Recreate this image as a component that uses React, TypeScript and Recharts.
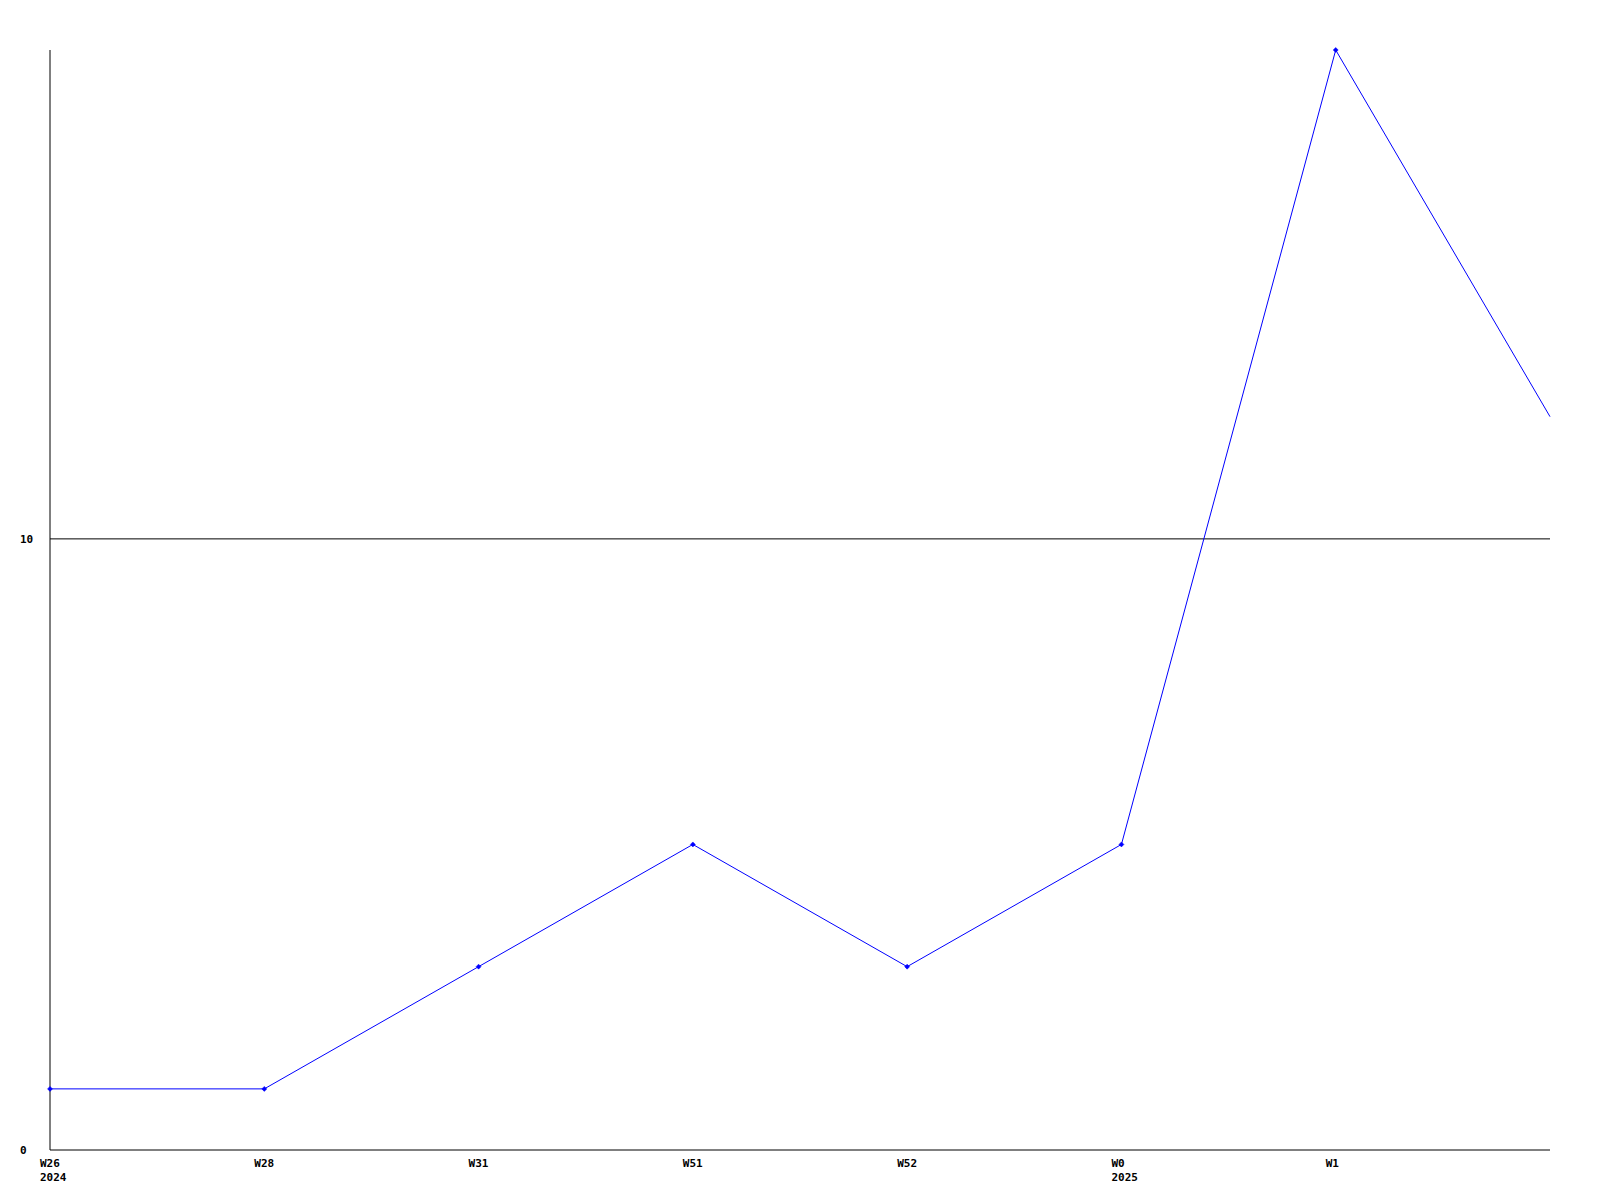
import React from "react";
import { LineChart, Line, XAxis, YAxis, ReferenceLine } from "recharts";

const weeks = ["W26", "W28", "W31", "W51", "W52", "W0", "W1", ""];
const years = ["2024", "", "", "", "", "2025", "", ""];
const values = [1, 1, 3, 5, 3, 5, 18, 12];
const yTicks = [0, 10];
const gridValue = 10;

const data = weeks.map((w, i) => ({ week: w, year: years[i], value: values[i], idx: i }));

const FONT = "'DejaVu Sans Mono', 'Liberation Mono', monospace";

const XTick = (props: any) => {
  const { x, y, payload } = props;
  const i = payload.index;
  const year = years[i];
  return (
    <g>
      <text x={x - 10} y={y + 17} textAnchor="start" fontFamily={FONT} fontSize={11} fontWeight="bold" fill="#000">
        {payload.value}
      </text>
      {year ? (
        <text x={x - 10} y={y + 31} textAnchor="start" fontFamily={FONT} fontSize={11} fontWeight="bold" fill="#000">
          {year}
        </text>
      ) : null}
    </g>
  );
};

const YTick = (props: any) => {
  const { y, payload } = props;
  return (
    <text x={20} y={y + 4} textAnchor="start" fontFamily={FONT} fontSize={11} fontWeight="bold" fill="#000">
      {payload.value}
    </text>
  );
};

const Dot = (props: any) => {
  const { cx, cy, index } = props;
  if (index === values.length - 1 || cx == null) return <g key={index} />;
  return (
    <path
      key={index}
      d={`M${cx},${cy - 2.5} L${cx + 2.5},${cy} L${cx},${cy + 2.5} L${cx - 2.5},${cy} Z`}
      fill="#0000ff"
      stroke="#0000ff"
      strokeWidth={0.5}
    />
  );
};

export default function App() {
  return (
    <div style={{ position: "absolute", left: 0, top: 0, width: 1600, height: 1200, background: "#fff" }}>
      <LineChart width={1600} height={1200} data={data} margin={{ top: 50, right: 50, bottom: 0, left: 0 }}>
        <ReferenceLine y={gridValue} stroke="#000" strokeWidth={1} />
        <XAxis
          dataKey="week"
          height={50}
          axisLine={{ stroke: "#000", strokeWidth: 1 }}
          tickLine={false}
          tickSize={0}
          tickMargin={0}
          interval={0}
          tick={<XTick />}
        />
        <YAxis
          width={50}
          domain={[0, 18]}
          ticks={yTicks}
          axisLine={{ stroke: "#000", strokeWidth: 1 }}
          tickLine={false}
          tickSize={0}
          tick={<YTick />}
        />
        <Line
          type="linear"
          dataKey="value"
          stroke="#0000ff"
          strokeWidth={1}
          dot={<Dot />}
          activeDot={false}
          isAnimationActive={false}
        />
      </LineChart>
    </div>
  );
}
